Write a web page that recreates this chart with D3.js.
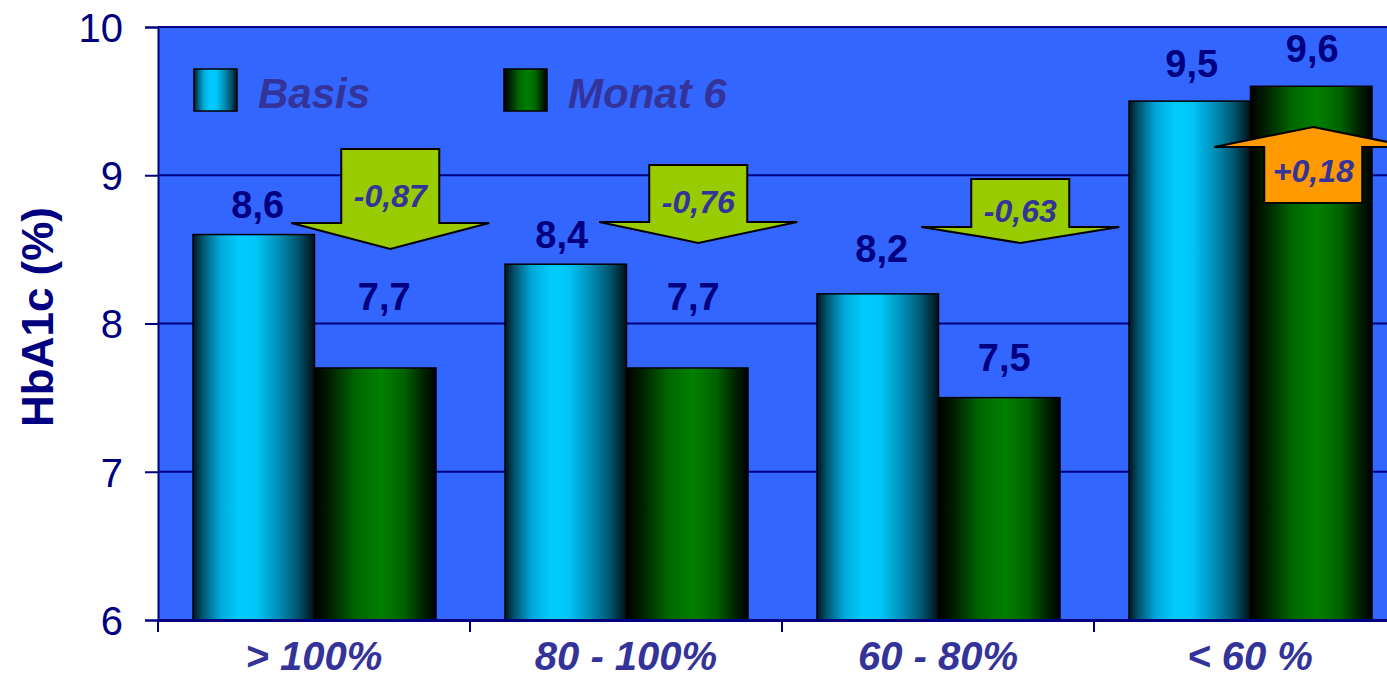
<!DOCTYPE html>
<html>
<head>
<meta charset="utf-8">
<script src="https://cdn.jsdelivr.net/npm/d3@7/dist/d3.min.js"></script>
<style>
  html, body { margin: 0; padding: 0; background: #ffffff; }
  svg { display: block; font-family: "Liberation Sans", Arial, sans-serif; }
</style>
</head>
<body>
<svg id="chart" width="1387" height="680"></svg>
<script>
// HbA1c at baseline and after 6 months, grouped by adherence class
const categories = ["> 100%", "80 - 100%", "60 - 80%", "< 60 %"];
const seriesNames = ["Basis", "Monat 6"];
const basisValues = [8.6, 8.4, 8.2, 9.5];
const monat6Values = [7.7, 7.7, 7.5, 9.6];
const changeValues = [-0.87, -0.76, -0.63, 0.18];
const yTicks = [6, 7, 8, 9, 10];
const yTitle = "HbA1c (%)";

const rows = categories.map((c, i) => ({
  category: c,
  values: [
    { series: seriesNames[0], value: basisValues[i] },
    { series: seriesNames[1], value: monat6Values[i] }
  ],
  change: changeValues[i]
}));

const svg = d3.select("#chart");
const plot = { left: 158, top: 27, bottom: 620, bandW: 312 };

const NAVY = "#000080";
const SLATE = "#333399";
const FONT = "'Liberation Sans', Arial, sans-serif";

const x0 = d3.scaleBand()
  .domain(categories)
  .range([plot.left, plot.left + plot.bandW * categories.length])
  .padding(0);
const x1 = d3.scaleBand()
  .domain(seriesNames)
  .range([35, 278])
  .padding(0);
const y = d3.scaleLinear().domain([6, 10]).range([plot.bottom, plot.top]);

// decimal comma and a plain hyphen for negatives
const commaFmt = f => v => f(v).replace(".", ",").replace("\u2212", "-");
const valueFmt = commaFmt(d3.format(".1f"));
const changeFmt = commaFmt(d3.format("+.2f"));

// gradients giving the bars their cylindrical shading
const defs = svg.append("defs");
function hGrad(id, stops) {
  const g = defs.append("linearGradient").attr("id", id)
    .attr("x1", "0%").attr("x2", "100%").attr("y1", "0%").attr("y2", "0%");
  stops.forEach(([o, c]) => g.append("stop").attr("offset", o).attr("stop-color", c));
}
hGrad("grad-basis", [
  ["0%", "#00141c"], ["8%", "#005570"], ["22%", "#00a8d8"], ["38%", "#00ccff"],
  ["52%", "#00c6f8"], ["70%", "#0090b8"], ["86%", "#00566f"], ["100%", "#001219"]
]);
hGrad("grad-monat", [
  ["0%", "#000000"], ["14%", "#002400"], ["34%", "#006600"], ["55%", "#008000"],
  ["74%", "#006200"], ["90%", "#002200"], ["100%", "#000000"]
]);
const gradOf = s => s === seriesNames[0] ? "url(#grad-basis)" : "url(#grad-monat)";

const plotRight = x0.range()[1];

// plot background
svg.append("rect")
  .attr("x", plot.left).attr("y", plot.top)
  .attr("width", plotRight - plot.left).attr("height", plot.bottom - plot.top)
  .attr("fill", "#3366ff");

// horizontal gridlines
svg.append("g").selectAll("line")
  .data(yTicks.filter(t => t > 6))
  .join("line")
  .attr("x1", plot.left).attr("x2", plotRight)
  .attr("y1", d => y(d)).attr("y2", d => y(d))
  .attr("stroke", NAVY).attr("stroke-width", 2);

// bars
const groups = svg.append("g").selectAll("g")
  .data(rows)
  .join("g")
  .attr("transform", d => `translate(${x0(d.category)},0)`);

groups.selectAll("rect")
  .data(d => d.values)
  .join("rect")
  .attr("x", d => x1(d.series))
  .attr("y", d => y(d.value))
  .attr("width", x1.bandwidth())
  .attr("height", d => y(6) - y(d.value))
  .attr("fill", d => gradOf(d.series))
  .attr("stroke", "#000000")
  .attr("stroke-width", 1.5);

// value labels above the bars (lifted in px, per bar)
const labelLift = [[17, 58], [16, 58], [32, 27], [24, 24]];
const labelShift = [[4, 9], [-4, 6], [4, 5], [2, 1]];
groups.each(function (d, gi) {
  d3.select(this).selectAll("text.val")
    .data(d.values)
    .join("text")
    .attr("class", "val")
    .attr("x", (v, si) => x1(v.series) + x1.bandwidth() / 2 + labelShift[gi][si])
    .attr("y", (v, si) => y(v.value) - labelLift[gi][si])
    .attr("text-anchor", "middle")
    .attr("font-family", FONT)
    .attr("font-weight", "bold")
    .attr("font-size", 38)
    .attr("fill", NAVY)
    .text(v => valueFmt(v.value));
});

// change arrows (geometry in axis units, x offset from the Monat 6 bar centre)
const arrowGeom = [
  { dx: 15, base: 9.177, wing: 8.678, tip: 8.503, text: 8.787 },
  { dx: 11, base: 9.069, wing: 8.685, tip: 8.543, text: 8.745 },
  { dx: 21, base: 8.975, wing: 8.651, tip: 8.543, text: 8.685 },
  { dx: 2,  base: 8.813, wing: 9.191, tip: 9.325, text: 8.955 }
];
const shaftHalf = 49, headHalf = 99;
const arrows = svg.append("g");
rows.forEach((r, i) => {
  const g = arrowGeom[i];
  const cx = x0(r.category) + x1(seriesNames[1]) + x1.bandwidth() / 2 + g.dx;
  const yb = y(g.base), yw = y(g.wing), yt = y(g.tip);
  const p = d3.path();
  p.moveTo(cx - shaftHalf, yb);
  p.lineTo(cx + shaftHalf, yb);
  p.lineTo(cx + shaftHalf, yw);
  p.lineTo(cx + headHalf, yw);
  p.lineTo(cx, yt);
  p.lineTo(cx - headHalf, yw);
  p.lineTo(cx - shaftHalf, yw);
  p.closePath();
  arrows.append("path")
    .attr("d", p.toString())
    .attr("fill", r.change < 0 ? "#99cc00" : "#ff9900")
    .attr("stroke", "#000000")
    .attr("stroke-width", 2)
    .attr("stroke-linejoin", "miter");
  arrows.append("text")
    .attr("x", cx)
    .attr("y", y(g.text))
    .attr("text-anchor", "middle")
    .attr("font-family", FONT)
    .attr("font-weight", "bold")
    .attr("font-style", "italic")
    .attr("font-size", 32)
    .attr("fill", SLATE)
    .text(changeFmt(r.change));
});

// legend
const legend = svg.append("g");
const legendX = [194, 504];
seriesNames.forEach((s, i) => {
  legend.append("rect")
    .attr("x", legendX[i]).attr("y", 69)
    .attr("width", 43).attr("height", 42)
    .attr("fill", gradOf(s))
    .attr("stroke", "#000000").attr("stroke-width", 1.5);
  legend.append("text")
    .attr("x", legendX[i] + 64).attr("y", 108)
    .attr("font-family", FONT)
    .attr("font-weight", "bold")
    .attr("font-style", "italic")
    .attr("font-size", 42)
    .attr("fill", SLATE)
    .text(s);
});

// y axis
const yAxis = svg.append("g")
  .attr("transform", `translate(${plot.left},0)`)
  .call(d3.axisLeft(y).tickValues(yTicks).tickSize(13).tickPadding(22).tickFormat(d3.format("d")));
yAxis.select(".domain").attr("stroke", NAVY).attr("stroke-width", 2);
yAxis.selectAll(".tick line").attr("stroke", NAVY).attr("stroke-width", 2);
yAxis.selectAll(".tick text")
  .attr("fill", NAVY).attr("font-family", FONT).attr("font-size", 40).attr("dy", "0.36em");

// x axis
const xAxis = svg.append("g")
  .attr("transform", `translate(0,${plot.bottom})`)
  .call(d3.axisBottom(x0).tickSize(0).tickPadding(40));
xAxis.select(".domain").attr("stroke", NAVY).attr("stroke-width", 3);
xAxis.selectAll(".tick text")
  .attr("fill", SLATE).attr("font-family", FONT).attr("font-size", 40)
  .attr("font-weight", "bold").attr("font-style", "italic")
  .attr("dy", "0.71em").attr("y", 22);
// category boundary ticks
svg.append("g").selectAll("line")
  .data(categories)
  .join("line")
  .attr("x1", d => x0(d)).attr("x2", d => x0(d))
  .attr("y1", plot.bottom).attr("y2", plot.bottom + 12)
  .attr("stroke", NAVY).attr("stroke-width", 2);

// y axis title
svg.append("text")
  .attr("transform", `translate(53,317) rotate(-90)`)
  .attr("text-anchor", "middle")
  .attr("font-family", FONT)
  .attr("font-weight", "bold")
  .attr("font-size", 44)
  .attr("fill", NAVY)
  .text(yTitle);
</script>
</body>
</html>
